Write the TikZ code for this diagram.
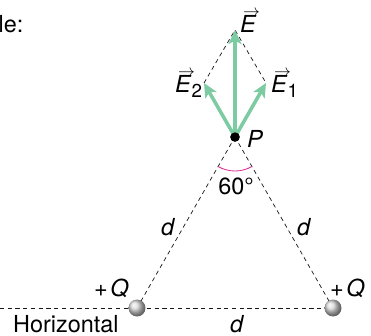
\documentclass[tikz,border=0pt]{standalone}
\usepackage{fontspec}
\setmainfont{TeX Gyre Heros}
\usepackage{xcolor}
\usepackage{tikz}
\usetikzlibrary{arrows.meta,positioning,calc}
\definecolor{Ink}{HTML}{151515}
\definecolor{Field}{HTML}{7CCBA2}
\definecolor{Angle}{HTML}{DA2B95}
\newcommand{\arrowE}{\leavevmode\rlap{\raisebox{13.5pt}{\kern2.5pt$\scriptstyle\rightarrow$}}\textit{E}}
\newcommand{\fieldE}[1]{\arrowE\raisebox{-5pt}{\fontsize{16}{18}\selectfont #1}}

\begin{document}
\begin{tikzpicture}[x=0.03cm, y=-0.03cm,
  font=\fontsize{20}{23}\selectfont,
  guide/.style={draw=Ink, line width=0.6pt, dash pattern=on 3.6pt off 3pt},
  vecarrow/.style={draw=Field, line width=3pt, -{Stealth[length=12pt,width=11pt,inset=3pt]}},
  charge/.style={circle, shading=ball, ball color=gray!30, minimum size=14.5pt, inner sep=0pt},
  dot/.style={circle, fill=black, minimum size=8pt, inner sep=0pt},
  lbl/.style={anchor=base west, inner sep=0pt}]
  \useasboundingbox (0,0) rectangle (371,335);

  % charges and the point P
  \coordinate (hz) at (0,308);
  \node[dot] (P) at (235,137) {};
  \coordinate (qLc) at (137,308);
  \coordinate (qRc) at (333,308);
  \coordinate (E) at ($(P)+(0,-107)$);
  \coordinate (E1) at ($(P)+(31,-54)$);
  \coordinate (E2) at ($(P)+(-31,-54)$);

  % dashed guides
  \draw[guide] (hz) -- (qRc);
  \draw[guide, shorten >=6pt] (qLc) -- (P.center);
  \draw[guide, shorten >=6pt] (qRc) -- (P.center);
  \draw[guide] (E2) -- (E) -- (E1);
  \node[charge] (qL) at (qLc) {};
  \node[charge] (qR) at (qRc) {};

  % field vectors
  \draw[vecarrow] (P.center) -- (E);
  \draw[vecarrow] (P.center) -- (E1);
  \draw[vecarrow] (P.center) -- (E2);
  \node[dot] at (P) {};

  % angle at P
  \draw[Angle, line width=0.7pt] (P.center) ++(240:1.02cm) arc[start angle=240, end angle=300, radius=1.02cm];

  % labels
  \node[lbl, font=\fontsize{20}{24}\selectfont] (cap) at (-1.5,32) {le:};
  \node[lbl] (lE) at (240,32) {\arrowE};
  \node[lbl] (lE2) at (175,92) {\fieldE{2}};
  \node[lbl] (lE1) at (271,92) {\fieldE{1}};
  \node[lbl] (lP) at (247,147) {\itshape P};
  \node[anchor=base, inner sep=0pt] (ang) at (236,194) {60\textdegree};
  \node[lbl] (dL) at (161,235) {\itshape d};
  \node[lbl] (dR) at (297,235) {\itshape d};
  \node[lbl] (dB) at (230,332) {\itshape d};
  \node[lbl] (pQL) at (94,296) {+\kern2pt\itshape Q};
  \node[lbl] (pQR) at (330,296) {+\kern2pt\itshape Q};
  \node[lbl] (hor) at (13,332) {Horizontal};
\end{tikzpicture}
\end{document}
